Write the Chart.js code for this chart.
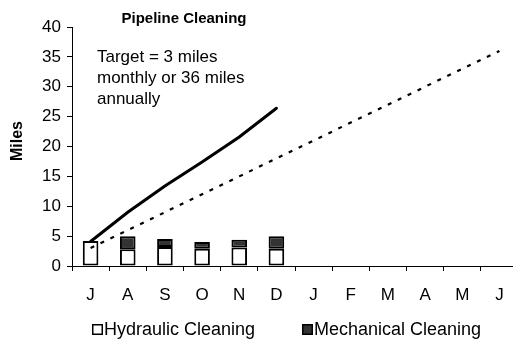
<!DOCTYPE html>
<html>
<head>
<meta charset="utf-8">
<script src="https://cdn.jsdelivr.net/npm/chart.js@4/dist/chart.umd.min.js"></script>
<style>
html,body{margin:0;padding:0;overflow:hidden;background:#fff;}
canvas{display:block;}
</style>
</head>
<body>
<canvas id="c" width="520" height="347" style="width:520px;height:347px"></canvas>
<script>
const months = ['J','A','S','O','N','D','J','F','M','A','M','J'];
const hydraulic = [4.2, 2.8, 3.2, 2.9, 3.1, 2.9, null, null, null, null, null, null];
const mechanical = [null, 2.2, 1.3, 1.1, 1.3, 2.1, null, null, null, null, null, null];
const cumulative = [4.1, 9.0, 13.4, 17.4, 21.6, 26.4, null, null, null, null, null, null];
const target = [3, 6, 9, 12, 15, 18, 21, 24, 27, 30, 33, 36];
const yTicks = [0, 5, 10, 15, 20, 25, 30, 35, 40];
const titleText = 'Pipeline Cleaning';
const yTitle = 'Miles';
const noteLines = ['Target = 3 miles', 'monthly or 36 miles', 'annually'];
const legendItems = ['Hydraulic Cleaning', 'Mechanical Cleaning'];

const FONT = 'Arial, "Liberation Sans", sans-serif';

const textPlugin = {
  id: 'texts',
  afterDraw(chart) {
    const ctx = chart.ctx;
    ctx.save();
    ctx.fillStyle = '#000';
    // title
    ctx.font = 'bold 15px ' + FONT;
    ctx.textAlign = 'center';
    ctx.textBaseline = 'middle';
    ctx.fillText(titleText, 184, 19);
    // y title
    ctx.save();
    ctx.translate(18, 141);
    ctx.rotate(-Math.PI / 2);
    ctx.font = 'bold 16px ' + FONT;
    ctx.fillText(yTitle, 0, 0);
    ctx.restore();
    // note
    ctx.font = '17px ' + FONT;
    ctx.textAlign = 'left';
    noteLines.forEach((l, i) => ctx.fillText(l, 97, 57 + i * 21));
    // legend
    ctx.font = '18px ' + FONT;
    const lx = [92, 302];
    const fills = ['#ffffff', '#333333'];
    legendItems.forEach((t, i) => {
      ctx.fillStyle = fills[i];
      ctx.fillRect(lx[i], 324, 11, 11);
      ctx.strokeStyle = '#000';
      ctx.lineWidth = 1.5;
      ctx.strokeRect(lx[i] + 0.75, 324.75, 9.5, 9.5);
      ctx.fillStyle = '#000';
      ctx.fillText(t, lx[i] + 12, 330);
    });
    ctx.restore();
  }
};

new Chart(document.getElementById('c'), {
  data: {
    labels: months,
    datasets: [
      { type: 'bar', label: legendItems[0], data: hydraulic, stack: 'bars',
        backgroundColor: '#ffffff', borderColor: '#000000', borderWidth: 2, borderSkipped: false,
        categoryPercentage: 1, barPercentage: 0.42, order: 2 },
      { type: 'bar', label: legendItems[1], data: mechanical, stack: 'bars',
        backgroundColor: '#333333', borderColor: '#000000', borderWidth: 2, borderSkipped: false,
        categoryPercentage: 1, barPercentage: 0.42, order: 2 },
      { type: 'line', label: 'Cumulative', data: cumulative, stack: 'cum',
        borderColor: '#000000', borderWidth: 3, pointRadius: 0, tension: 0, fill: false,
        borderCapStyle: 'round', spanGaps: false, order: 1 },
      { type: 'line', label: 'Target', data: target, stack: 'tgt',
        borderColor: '#000000', borderWidth: 2.2, borderDash: [4, 7], pointRadius: 0, tension: 0, fill: false, order: 0 }
    ]
  },
  options: {
    responsive: false,
    devicePixelRatio: 1,
    animation: false,
    layout: { padding: { top: 27, right: 2, left: 0, bottom: 0 } },
    plugins: { legend: { display: false }, tooltip: { enabled: false }, title: { display: false } },
    scales: {
      x: {
        stacked: true,
        offset: true,
        grid: { offset: true, drawOnChartArea: false, drawTicks: true, tickLength: 5, color: '#000', lineWidth: 1 },
        border: { color: '#000', width: 1 },
        ticks: { color: '#000', font: { family: FONT, size: 17 }, padding: 14, maxRotation: 0, autoSkip: false },
        afterFit(s) { s.height = 347 - 266; }
      },
      y: {
        stacked: true,
        min: 0, max: 40,
        grid: { drawOnChartArea: false, drawTicks: true, tickLength: 5, color: '#000', lineWidth: 1 },
        border: { color: '#000', width: 1 },
        afterBuildTicks(s) { s.ticks = yTicks.map(v => ({ value: v })); },
        ticks: { color: '#000', font: { family: FONT, size: 17 }, padding: 6 },
        afterFit(s) { s.width = 72; }
      }
    }
  },
  plugins: [textPlugin]
});
</script>
</body>
</html>
